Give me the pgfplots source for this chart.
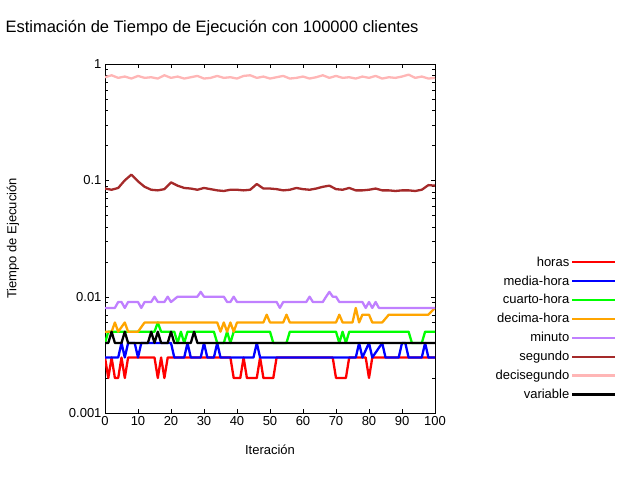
\documentclass[border=0pt]{standalone}
\usepackage{pgfplots}
\pgfplotsset{compat=1.18}
\usepackage{fontspec}
\setmainfont{Liberation Sans}
\begin{document}
\begin{tikzpicture}[x=1pt,y=1pt]
\path[use as bounding box] (0,0) rectangle (640,480);
\node[anchor=west,font=\fontsize{16.5}{19}\selectfont] at (2,452) {Estimación de Tiempo de Ejecución con 100000 clientes};
\begin{axis}[at={(105pt,67pt)},anchor=south west,scale only axis,width=330pt,height=349pt,
 ymode=log,xmin=0,xmax=100,ymin=0.001,ymax=1,
 xtick={0,10,...,100},ytick={0.001,0.01,0.1,1},
 yticklabels={0.001,0.01,0.1,1},
 log ticks with fixed point,
 /pgf/number format/assume math mode=true,
 tick align=inside, minor y tick num=0, yminorticks=true,
 tick style={black},
 ticklabel style={font=\fontsize{13}{15}\selectfont},
 xlabel={Iteración},ylabel={Tiempo de Ejecución},
 label style={font=\fontsize{13}{15}\selectfont},
 xlabel style={yshift=-12pt},
 ylabel style={at={(axis description cs:-0.25,0.5)},anchor=south},
 legend style={at={(1.56,0.46)},anchor=north east,draw=none,fill=none,font=\fontsize{13}{15}\selectfont,row sep=4pt},
 legend plot pos=right, legend cell align=right,
 legend image code/.code={\draw[#1] (0pt,0pt) -- (43pt,0pt);},
 every axis plot/.append style={line width=2.3pt,line join=round},
]
\addplot[red] coordinates {(0,0.003)(1,0.002)(2,0.003)(3,0.002)(4,0.002)(5,0.003)(6,0.002)(7,0.003)(15,0.003)(16,0.002)(17,0.003)(18,0.002)(19,0.003)(38,0.003)(39,0.002)(41,0.002)(42,0.003)(43,0.002)(46,0.002)(47,0.003)(48,0.002)(51,0.002)(52,0.003)(69,0.003)(70,0.002)(73,0.002)(74,0.003)(79,0.003)(80,0.002)(81,0.003)(100,0.003)};
\addlegendentry{horas}
\addplot[blue] coordinates {(0,0.003)(4,0.003)(5,0.004)(6,0.003)(7,0.004)(9,0.004)(10,0.003)(11,0.004)(12,0.004)(20,0.004)(21,0.003)(24,0.003)(25,0.004)(26,0.003)(29,0.003)(30,0.004)(31,0.003)(33,0.003)(34,0.004)(35,0.003)(45,0.003)(46,0.004)(47,0.003)(76,0.003)(77,0.004)(78,0.003)(80,0.004)(81,0.003)(84,0.004)(85,0.003)(89,0.003)(90,0.004)(91,0.004)(92,0.003)(96,0.003)(97,0.004)(98,0.003)(100,0.003)};
\addlegendentry{media-hora}
\addplot[green] coordinates {(0,0.004)(1,0.005)(15,0.005)(16,0.006)(17,0.005)(21,0.005)(22,0.004)(23,0.005)(24,0.004)(25,0.005)(26,0.005)(33,0.005)(34,0.004)(36,0.004)(37,0.005)(38,0.004)(39,0.005)(50,0.005)(51,0.004)(55,0.004)(56,0.005)(70,0.005)(71,0.004)(72,0.005)(73,0.004)(74,0.005)(92,0.005)(93,0.004)(96,0.004)(97,0.005)(100,0.005)};
\addlegendentry{cuarto-hora}
\addplot[color={rgb,255:red,255;green,165;blue,0}] coordinates {(0,0.005)(2,0.005)(3,0.006)(4,0.005)(6,0.006)(7,0.005)(10,0.005)(12,0.006)(34,0.006)(35,0.005)(36,0.006)(37,0.005)(38,0.006)(39,0.005)(40,0.006)(48,0.006)(49,0.007)(50,0.006)(54,0.006)(55,0.007)(56,0.006)(70,0.006)(71,0.007)(72,0.006)(75,0.006)(76,0.008)(77,0.006)(78,0.007)(80,0.007)(81,0.006)(84,0.006)(86,0.007)(98,0.007)(99,0.0075)(100,0.008)};
\addlegendentry{decima-hora}
\addplot[color={rgb,255:red,192;green,128;blue,255}] coordinates {(0,0.008)(3,0.008)(4,0.009)(5,0.009)(6,0.008)(7,0.009)(10,0.009)(11,0.008)(12,0.009)(14,0.009)(15,0.010)(16,0.009)(18,0.009)(19,0.010)(20,0.009)(22,0.010)(28,0.010)(29,0.011)(30,0.010)(36,0.010)(37,0.009)(38,0.009)(39,0.010)(40,0.009)(52,0.009)(53,0.008)(54,0.009)(61,0.009)(62,0.010)(63,0.009)(66,0.009)(67,0.010)(68,0.011)(69,0.010)(70,0.010)(71,0.009)(78,0.009)(79,0.008)(80,0.009)(81,0.008)(82,0.009)(83,0.008)(100,0.008)};
\addlegendentry{minuto}
\addplot[color={rgb,255:red,165;green,42;blue,42}] coordinates {(0,0.085)(2,0.083)(4,0.086)(6,0.1)(8,0.112)(10,0.098)(12,0.088)(14,0.083)(16,0.082)(18,0.084)(20,0.096)(22,0.09)(24,0.086)(26,0.085)(28,0.083)(30,0.086)(32,0.084)(34,0.082)(36,0.081)(38,0.083)(40,0.083)(42,0.082)(44,0.083)(46,0.093)(48,0.085)(50,0.085)(52,0.084)(54,0.082)(56,0.083)(58,0.086)(60,0.084)(62,0.083)(64,0.085)(66,0.088)(68,0.09)(70,0.084)(72,0.083)(74,0.086)(76,0.082)(78,0.082)(80,0.083)(82,0.085)(84,0.082)(86,0.082)(88,0.081)(90,0.082)(92,0.082)(94,0.081)(96,0.083)(98,0.091)(100,0.09)};
\addlegendentry{segundo}
\addplot[color={rgb,255:red,255;green,182;blue,182}] coordinates {(0,0.77)(2,0.8)(4,0.76)(6,0.78)(8,0.75)(10,0.79)(12,0.76)(14,0.77)(16,0.75)(18,0.8)(20,0.76)(22,0.78)(24,0.75)(26,0.77)(28,0.79)(30,0.75)(32,0.76)(34,0.79)(36,0.76)(38,0.77)(40,0.75)(42,0.79)(44,0.8)(46,0.76)(48,0.78)(50,0.75)(52,0.77)(54,0.79)(56,0.75)(58,0.76)(60,0.78)(62,0.75)(64,0.77)(66,0.8)(68,0.76)(70,0.79)(72,0.76)(74,0.77)(76,0.75)(78,0.78)(80,0.76)(82,0.79)(84,0.75)(86,0.77)(88,0.76)(90,0.78)(92,0.81)(94,0.76)(96,0.78)(98,0.75)(100,0.76)};
\addlegendentry{decisegundo}
\addplot[black] coordinates {(0,0.004)(1,0.004)(2,0.005)(3,0.004)(5,0.004)(6,0.005)(7,0.004)(13,0.004)(14,0.005)(15,0.004)(16,0.005)(17,0.004)(19,0.004)(20,0.005)(21,0.004)(26,0.004)(27,0.005)(28,0.004)(100,0.004)};
\addlegendentry{variable}
\end{axis}
\end{tikzpicture}
\end{document}
